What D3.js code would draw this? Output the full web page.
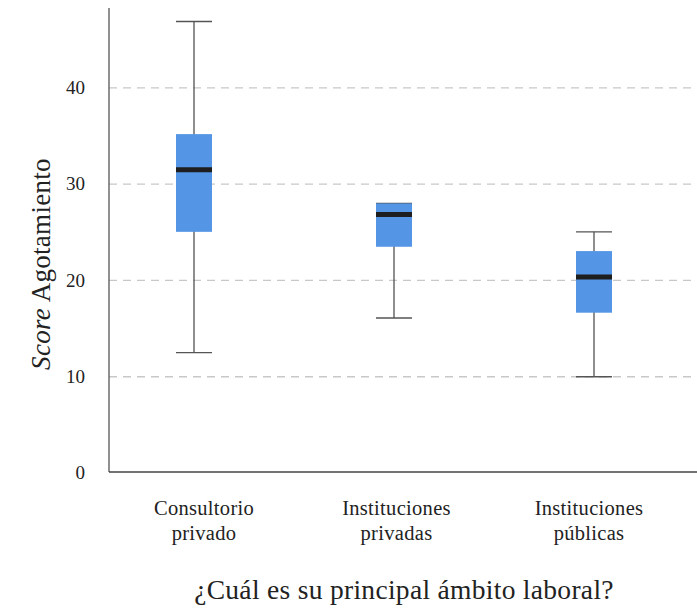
<!DOCTYPE html>
<html><head><meta charset="utf-8">
<script src="https://cdn.jsdelivr.net/npm/d3@7"></script>
<style>body{margin:0;background:#fff}svg{display:block}text{font-family:"Liberation Serif","DejaVu Serif",serif;fill:#222}</style>
</head><body><svg id="c" width="697" height="608"></svg>
<script>
const categories = ["Consultorio privado", "Instituciones privadas", "Instituciones públicas"];
const labelLines = [["Consultorio","privado"],["Instituciones","privadas"],["Instituciones","públicas"]];
const whiskerLow  = [12.5, 16.1, 10.0];
const q1          = [25.05, 23.5, 16.65];
const median      = [31.5, 26.85, 20.35];
const q3          = [35.2, 28.0, 23.05];
const whiskerHigh = [46.9, 28.0, 25.05];
const yTicks = [0, 10, 20, 30, 40];

(function(){
const data = categories.map((c,i)=>({c, lo:whiskerLow[i], q1:q1[i], med:median[i], q3:q3[i], hi:whiskerHigh[i], lines:labelLines[i]}));

const svg = d3.select("#c");
const mLeft = 109, mBottom = 473, mTop = 8;
const y = d3.scaleLinear().domain([0, 48.3]).range([mBottom, mTop]);
const x = d3.scalePoint().domain(categories).range([194, 594]);
const xl = d3.scalePoint().domain(categories).range([204, 589]);
const bw = 36;

svg.append("g").selectAll("line").data(yTicks.filter(t=>t>0)).join("line")
  .attr("x1", mLeft).attr("x2", 697).attr("y1", d=>y(d)).attr("y2", d=>y(d))
  .attr("stroke", "#c8c8c8").attr("stroke-width", 1.3).attr("stroke-dasharray", "8,6");

svg.append("g").selectAll("text").data(yTicks).join("text")
  .attr("x", 85).attr("y", d=>y(d)).attr("dy", "0.33em").attr("text-anchor","end")
  .attr("font-size", 19).text(d=>d);

svg.append("line").attr("x1", mLeft).attr("x2", mLeft).attr("y1", mTop).attr("y2", mBottom-1)
  .attr("stroke", "#555").attr("stroke-width", 1.3);
svg.append("line").attr("x1", mLeft).attr("x2", 697).attr("y1", mBottom-1).attr("y2", mBottom-1)
  .attr("stroke", "#444").attr("stroke-width", 1.3);

const g = svg.append("g").selectAll("g").data(data).join("g");
g.append("line").attr("x1", d=>x(d.c)).attr("x2", d=>x(d.c)).attr("y1", d=>y(d.hi)).attr("y2", d=>y(d.lo))
  .attr("stroke", "#444").attr("stroke-width", 1.2);
g.append("line").attr("x1", d=>x(d.c)-bw/2).attr("x2", d=>x(d.c)+bw/2).attr("y1", d=>y(d.hi)).attr("y2", d=>y(d.hi))
  .attr("stroke", "#555").attr("stroke-width", 1.4);
g.append("line").attr("x1", d=>x(d.c)-bw/2).attr("x2", d=>x(d.c)+bw/2).attr("y1", d=>y(d.lo)).attr("y2", d=>y(d.lo))
  .attr("stroke", "#555").attr("stroke-width", 1.4);
g.append("rect").attr("x", d=>x(d.c)-bw/2).attr("width", bw).attr("y", d=>y(d.q3)).attr("height", d=>y(d.q1)-y(d.q3))
  .attr("fill", "#5495e5");
g.append("line").attr("x1", d=>x(d.c)-bw/2).attr("x2", d=>x(d.c)+bw/2).attr("y1", d=>y(d.med)).attr("y2", d=>y(d.med))
  .attr("stroke", "#1e1e1e").attr("stroke-width", 5);

const lab = svg.append("g").selectAll("text").data(data).join("text")
  .attr("x", d=>xl(d.c)).attr("y", 515).attr("text-anchor","middle").attr("font-size", 20.5)
  .attr("letter-spacing", 0.3);
lab.selectAll("tspan").data(d=>d.lines.map(l=>({l, x:xl(d.c)}))).join("tspan")
  .attr("x", d=>d.x).attr("dy", (d,i)=>i===0?0:25).text(d=>d.l);

const yt = svg.append("text").attr("transform","translate(50,264) rotate(-90)").attr("text-anchor","middle").attr("font-size", 27)
  .attr("letter-spacing", 0.3);
yt.append("tspan").attr("font-style","italic").text("Score");
yt.append("tspan").text(" Agotamiento");

svg.append("text").attr("x", 404).attr("y", 599).attr("text-anchor","middle").attr("font-size", 27.5)
  .attr("letter-spacing", 0.3)
  .text("¿Cuál es su principal ámbito laboral?");
})();
</script></body></html>
